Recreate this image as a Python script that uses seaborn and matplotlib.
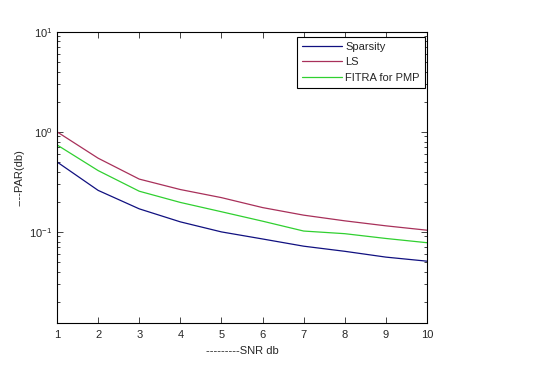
import matplotlib
matplotlib.use("Agg")
import matplotlib.pyplot as plt
import seaborn as sns
import pandas as pd
import numpy as np

snr = [1, 2, 3, 4, 5, 6, 7, 8, 9, 10]
sparsity = [0.50, 0.26, 0.17, 0.126, 0.100, 0.085, 0.072, 0.064, 0.056, 0.051]
ls = [1.00, 0.545, 0.337, 0.265, 0.220, 0.175, 0.147, 0.129, 0.115, 0.104]
fitra = [0.74, 0.41, 0.255, 0.197, 0.159, 0.128, 0.102, 0.096, 0.086, 0.078]
series_names = ["Sparsity", "LS", "FITRA for PMP"]
colors = ["#101080", "#a8305a", "#30d030"]

df = pd.concat([
    pd.DataFrame({"snr": snr, "par": vals, "method": name})
    for name, vals in zip(series_names, [sparsity, ls, fitra])
])

sns.set_style("ticks")
plt.rcParams["font.family"] = ["Liberation Sans", "DejaVu Sans"]
plt.rcParams["font.size"] = 8

fig = plt.figure(figsize=(5.55, 3.78), dpi=100)
ax = fig.add_axes([57/555, 1-323/378, (427-57)/555, (323-31.7)/378])

sns.lineplot(data=df, x="snr", y="par", hue="method", hue_order=series_names,
             palette=colors, linewidth=0.9, ax=ax, legend=True)

ax.set_yscale("log")
ax.set_xlim(1, 10)
ax.set_ylim(10**-1.91, 10)
ax.set_xticks(snr)
ax.set_xticklabels([str(v) for v in snr])
ax.tick_params(which="both", direction="in", top=True, right=True, labelsize=8, width=0.6)
ax.tick_params(which="major", length=4)
ax.tick_params(which="minor", length=2)
ax.tick_params(axis="x", pad=5)
for s in ax.spines.values():
    s.set_linewidth(0.8)
    s.set_color("black")
ax.set_xlabel("---------SNR db", fontsize=8, labelpad=4)
ax.set_ylabel("----PAR(db)", fontsize=8, labelpad=3)

leg = ax.legend(loc="upper right", bbox_to_anchor=(1 - 2/370, 1 - 5/291),
                fontsize=8, frameon=True, fancybox=False,
                edgecolor="black", framealpha=1, borderaxespad=0,
                handlelength=3.6, handletextpad=0.3, labelspacing=0.5, borderpad=0.45)
leg.get_frame().set_linewidth(0.8)

fig.savefig("out.png", dpi=100)
